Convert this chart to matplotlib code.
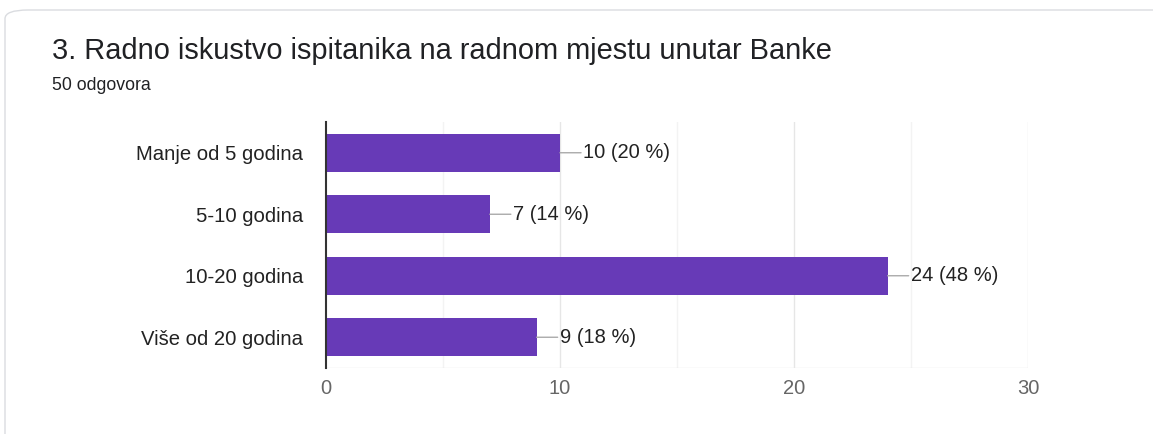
import matplotlib
matplotlib.use("Agg")
import matplotlib.pyplot as plt
from matplotlib.patches import FancyBboxPatch

categories = ["Manje od 5 godina", "5-10 godina", "10-20 godina", "Više od 20 godina"]
counts = [10, 7, 24, 9]
percents = [20, 14, 48, 18]
xticks = [0, 10, 20, 30]

W, H = 1153, 434
fig = plt.figure(figsize=(W / 100, H / 100), dpi=100)
fig.patch.set_facecolor("white")

# card outline
card = FancyBboxPatch((5 / W, -0.1), 1.2, 1 - 10 / H + 0.1,
                      boxstyle="round,pad=0,rounding_size=0.02",
                      transform=fig.transFigure, facecolor="white",
                      edgecolor="#dadce0", linewidth=1.0, zorder=-5)
fig.patches.append(card)

fig.text(52 / W, 1 - 51 / H, "3. Radno iskustvo ispitanika na radnom mjestu unutar Banke",
         fontsize=20.9, color="#202124", va="center", ha="left", family="Liberation Sans")
fig.text(52 / W, 1 - 85 / H, "50 odgovora", fontsize=12.7, color="#202124",
         va="center", ha="left", family="Liberation Sans")

ax = fig.add_axes([326 / W, 1 - 368 / H, (1028 - 326) / W, (368 - 122) / H])
ax.set_zorder(2)
y = list(range(len(categories)))
ax.barh(y, counts, height=0.62, color="#673ab7", zorder=3)
ax.set_ylim(len(categories) - 0.5, -0.5)
ax.set_xlim(0, 30)

for x in [5, 15, 25]:
    ax.axvline(x, color="#f3f3f3", lw=1, zorder=1)
for x in [10, 20, 30]:
    ax.axvline(x, color="#e6e6e6", lw=1, zorder=1)
ax.axhline(len(categories) - 0.5, color="#e6e6e6", lw=1, zorder=1)

for yi, c, p in zip(y, counts, percents):
    ax.annotate("", xy=(c, yi), xytext=(c + 0.9, yi),
                arrowprops=dict(arrowstyle="-", color="#aaaaaa", lw=1, shrinkA=0, shrinkB=0))
    ax.text(c + 0.98, yi, f"{c} ({p} %)", va="center", ha="left", fontsize=14.5,
            color="#222222", family="Liberation Sans")

ax.set_yticks(y)
ax.set_yticklabels(categories, fontsize=14.6, color="#222222", family="Liberation Sans")
ax.set_xticks(xticks)
ax.set_xticklabels([str(t) for t in xticks], fontsize=14.5, color="#666666", family="Liberation Sans")
ax.tick_params(axis="both", length=0)
ax.tick_params(axis="y", pad=16.5)
ax.tick_params(axis="x", pad=8)
for s in ["top", "right", "bottom"]:
    ax.spines[s].set_visible(False)
ax.spines["left"].set_color("#333333")
ax.spines["left"].set_linewidth(1.5)
ax.spines["left"].set_zorder(4)
ax.set_facecolor("none")

fig.savefig("out.png", dpi=100)
